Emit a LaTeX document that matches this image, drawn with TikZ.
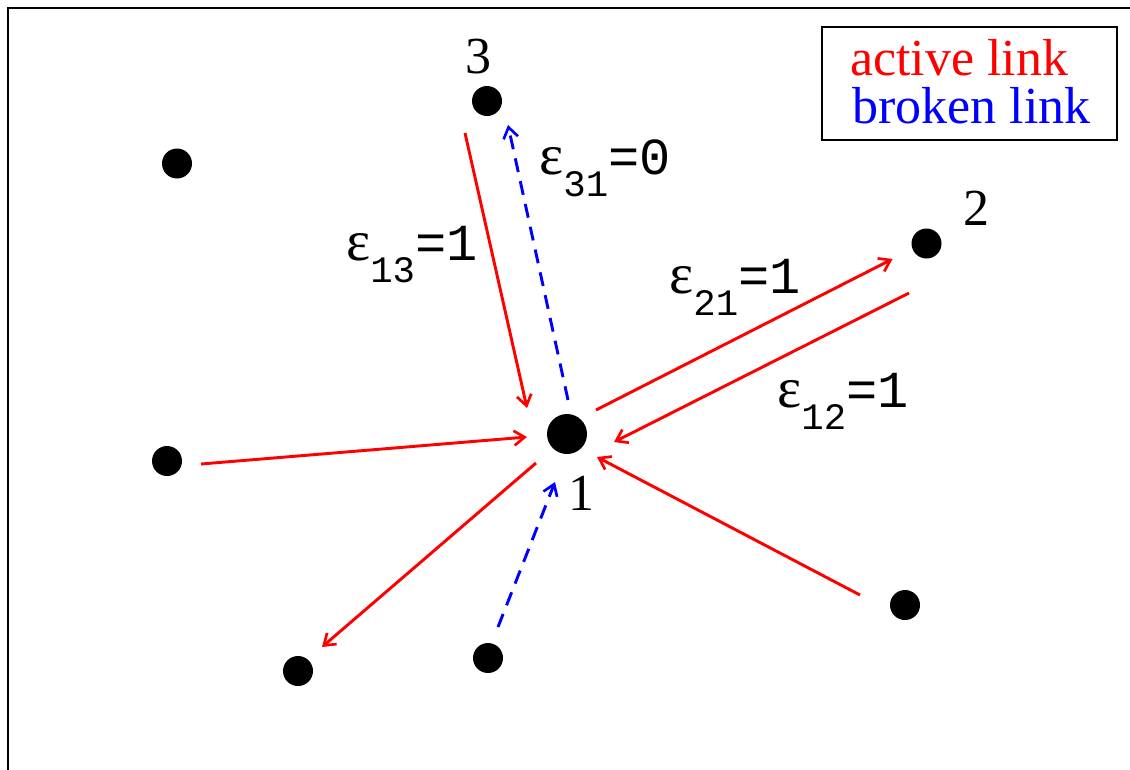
\documentclass[tikz,border=0pt]{standalone}
\usepackage{fontspec}
\setmainfont{Liberation Serif}
\newfontfamily\monofnt{Liberation Mono}
\usetikzlibrary{arrows.meta}
\newcommand{\myeps}{ε}
\newcommand{\epslab}[2]{{\fontsize{43}{43}\selectfont\myeps}\raisebox{-17pt}{\monofnt\fontsize{28}{28}\selectfont #1}{\monofnt\fontsize{39}{39}\selectfont=#2}}
\begin{document}
\begin{tikzpicture}[x=0.75pt,y=-0.75pt,
  dot/.style={circle,fill=black,inner sep=0pt,minimum size=#1},
  dot/.default=22.5pt,
  active/.style={red,line width=2.2pt,-{Straight Barb[length=8pt,width=11pt,line width=2pt]}},
  broken/.style={blue,line width=2.2pt,dash pattern=on 10.5pt off 7pt,-{Straight Barb[length=8pt,width=11pt,line width=2pt]}},
  numlab/.style={inner sep=0pt,anchor=base,font=\fontsize{39}{39}\selectfont},
  elab/.style={inner sep=0pt,anchor=base west}]
\useasboundingbox (0,0) rectangle (1130,769);
\draw[line width=1.5pt] (7.5,800) -- (7.5,7.5) -- (1140,7.5);
% nodes
\node[dot=30pt] (n1) at (567,434) {};
\node[dot] (n3) at (487,101) {};
\node[dot] (n2) at (926.5,243.5) {};
\node[dot] (a) at (177,163.5) {};
\node[dot] (b) at (167,461) {};
\node[dot] (c) at (298,671) {};
\node[dot] (d) at (488,658) {};
\node[dot] (e) at (905,605) {};
% labels
\node[numlab] (l1) at (581,510) {1};
\node[numlab] (l3) at (478,73) {3};
\node[numlab] (l2) at (976,225) {2};
% connectors
\draw[active] ([shift={(-22,32)}]n3.center) -- ([shift={(-40,-26)}]n1.center);
\draw[broken] ([shift={(1,-34)}]n1.center) -- ([shift={(21,24)}]n3.center);
\draw[active] ([shift={(29,-24)}]n1.center) -- ([shift={(-34,15.5)}]n2.center);
\draw[active] ([shift={(-17.5,49.5)}]n2.center) -- ([shift={(47,8)}]n1.center);
\draw[active] ([shift={(34,3)}]b.center) -- ([shift={(-40,3)}]n1.center);
\draw[active] ([shift={(-31,29)}]n1.center) -- ([shift={(24,-24)}]c.center);
\draw[broken] ([shift={(10,-31)}]d.center) -- ([shift={(-12,48)}]n1.center);
\draw[active] ([shift={(-45,-10)}]e.center) -- ([shift={(30,23)}]n1.center);
% epsilon labels
\node[elab] (e13) at (346,260) {\epslab{13}{1}};
\node[elab] (e31) at (539,174) {\epslab{31}{0}};
\node[elab] (e21) at (669,293) {\epslab{21}{1}};
\node[elab] (e12) at (777,407) {\epslab{12}{1}};
% legend
\draw[line width=1.2pt] (822,27) rectangle (1117,140);
\node[inner sep=0pt,anchor=base west,red,font=\fontsize{39}{39}\selectfont] (la) at (850,75) {active link};
\node[inner sep=0pt,anchor=base west,blue,font=\fontsize{39}{39}\selectfont] (lb) at (852,123) {broken link};
\end{tikzpicture}
\end{document}
